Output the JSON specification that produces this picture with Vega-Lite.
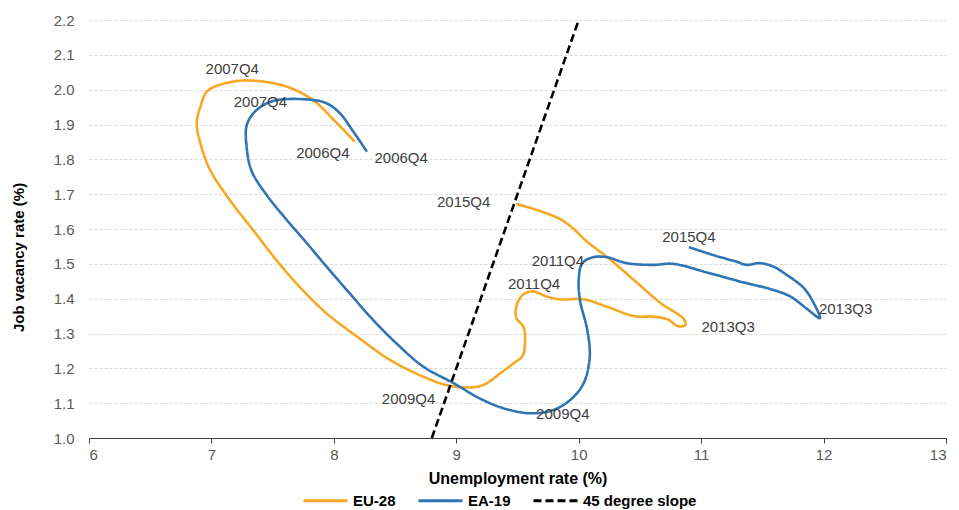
{
  "$schema": "https://vega.github.io/schema/vega-lite/v6.json",
  "width": 857,
  "height": 418,
  "autosize": {"type": "none"},
  "padding": {"left": 89, "top": 20, "right": 13, "bottom": 72},
  "background": "white",
  "config": {
    "view": {"stroke": null},
    "font": "Liberation Sans"
  },
  "datasets": {
    "lines": [
      {"series": "EU-28", "i": 1, "x": 8.17, "y": 1.851},
      {"series": "EU-28", "i": 2, "x": 8.0, "y": 1.913},
      {"series": "EU-28", "i": 3, "x": 7.83, "y": 1.97},
      {"series": "EU-28", "i": 4, "x": 7.62, "y": 2.008},
      {"series": "EU-28", "i": 5, "x": 7.34, "y": 2.026},
      {"series": "EU-28", "i": 6, "x": 7.16, "y": 2.022},
      {"series": "EU-28", "i": 7, "x": 6.97, "y": 1.997},
      {"series": "EU-28", "i": 8, "x": 6.91, "y": 1.951},
      {"series": "EU-28", "i": 9, "x": 6.88, "y": 1.904},
      {"series": "EU-28", "i": 10, "x": 6.91, "y": 1.846},
      {"series": "EU-28", "i": 11, "x": 6.99, "y": 1.769},
      {"series": "EU-28", "i": 12, "x": 7.15, "y": 1.683},
      {"series": "EU-28", "i": 13, "x": 7.34, "y": 1.597},
      {"series": "EU-28", "i": 14, "x": 7.53, "y": 1.511},
      {"series": "EU-28", "i": 15, "x": 7.72, "y": 1.434},
      {"series": "EU-28", "i": 16, "x": 7.94, "y": 1.358},
      {"series": "EU-28", "i": 17, "x": 8.19, "y": 1.291},
      {"series": "EU-28", "i": 18, "x": 8.46, "y": 1.224},
      {"series": "EU-28", "i": 19, "x": 8.73, "y": 1.176},
      {"series": "EU-28", "i": 20, "x": 8.92, "y": 1.152},
      {"series": "EU-28", "i": 21, "x": 9.09, "y": 1.145},
      {"series": "EU-28", "i": 22, "x": 9.22, "y": 1.152},
      {"series": "EU-28", "i": 23, "x": 9.36, "y": 1.186},
      {"series": "EU-28", "i": 24, "x": 9.47, "y": 1.215},
      {"series": "EU-28", "i": 25, "x": 9.54, "y": 1.235},
      {"series": "EU-28", "i": 26, "x": 9.56, "y": 1.265},
      {"series": "EU-28", "i": 27, "x": 9.55, "y": 1.318},
      {"series": "EU-28", "i": 28, "x": 9.49, "y": 1.345},
      {"series": "EU-28", "i": 29, "x": 9.49, "y": 1.377},
      {"series": "EU-28", "i": 30, "x": 9.54, "y": 1.41},
      {"series": "EU-28", "i": 31, "x": 9.62, "y": 1.421},
      {"series": "EU-28", "i": 32, "x": 9.74, "y": 1.406},
      {"series": "EU-28", "i": 33, "x": 9.85, "y": 1.398},
      {"series": "EU-28", "i": 34, "x": 10.04, "y": 1.398},
      {"series": "EU-28", "i": 35, "x": 10.23, "y": 1.377},
      {"series": "EU-28", "i": 36, "x": 10.45, "y": 1.35},
      {"series": "EU-28", "i": 37, "x": 10.62, "y": 1.348},
      {"series": "EU-28", "i": 38, "x": 10.73, "y": 1.34},
      {"series": "EU-28", "i": 39, "x": 10.81, "y": 1.321},
      {"series": "EU-28", "i": 40, "x": 10.87, "y": 1.324},
      {"series": "EU-28", "i": 41, "x": 10.86, "y": 1.341},
      {"series": "EU-28", "i": 42, "x": 10.67, "y": 1.387},
      {"series": "EU-28", "i": 43, "x": 10.45, "y": 1.454},
      {"series": "EU-28", "i": 44, "x": 10.23, "y": 1.52},
      {"series": "EU-28", "i": 45, "x": 10.06, "y": 1.566},
      {"series": "EU-28", "i": 46, "x": 9.95, "y": 1.603},
      {"series": "EU-28", "i": 47, "x": 9.85, "y": 1.628},
      {"series": "EU-28", "i": 48, "x": 9.68, "y": 1.652},
      {"series": "EU-28", "i": 49, "x": 9.49, "y": 1.672},
      {"series": "EA-19", "i": 1, "x": 8.27, "y": 1.822},
      {"series": "EA-19", "i": 2, "x": 8.16, "y": 1.879},
      {"series": "EA-19", "i": 3, "x": 8.05, "y": 1.932},
      {"series": "EA-19", "i": 4, "x": 7.94, "y": 1.961},
      {"series": "EA-19", "i": 5, "x": 7.78, "y": 1.972},
      {"series": "EA-19", "i": 6, "x": 7.51, "y": 1.968},
      {"series": "EA-19", "i": 7, "x": 7.37, "y": 1.942},
      {"series": "EA-19", "i": 8, "x": 7.29, "y": 1.9},
      {"series": "EA-19", "i": 9, "x": 7.29, "y": 1.827},
      {"series": "EA-19", "i": 10, "x": 7.33, "y": 1.765},
      {"series": "EA-19", "i": 11, "x": 7.45, "y": 1.698},
      {"series": "EA-19", "i": 12, "x": 7.615, "y": 1.626},
      {"series": "EA-19", "i": 13, "x": 7.78, "y": 1.559},
      {"series": "EA-19", "i": 14, "x": 7.94, "y": 1.492},
      {"series": "EA-19", "i": 15, "x": 8.13, "y": 1.415},
      {"series": "EA-19", "i": 16, "x": 8.32, "y": 1.339},
      {"series": "EA-19", "i": 17, "x": 8.51, "y": 1.272},
      {"series": "EA-19", "i": 18, "x": 8.73, "y": 1.205},
      {"series": "EA-19", "i": 19, "x": 8.98, "y": 1.157},
      {"series": "EA-19", "i": 20, "x": 9.19, "y": 1.114},
      {"series": "EA-19", "i": 21, "x": 9.38, "y": 1.086},
      {"series": "EA-19", "i": 22, "x": 9.6, "y": 1.071},
      {"series": "EA-19", "i": 23, "x": 9.79, "y": 1.08},
      {"series": "EA-19", "i": 24, "x": 9.93, "y": 1.109},
      {"series": "EA-19", "i": 25, "x": 10.04, "y": 1.157},
      {"series": "EA-19", "i": 26, "x": 10.09, "y": 1.233},
      {"series": "EA-19", "i": 27, "x": 10.07, "y": 1.31},
      {"series": "EA-19", "i": 28, "x": 10.01, "y": 1.396},
      {"series": "EA-19", "i": 29, "x": 10.0, "y": 1.454},
      {"series": "EA-19", "i": 30, "x": 10.03, "y": 1.502},
      {"series": "EA-19", "i": 31, "x": 10.12, "y": 1.519},
      {"series": "EA-19", "i": 32, "x": 10.23, "y": 1.519},
      {"series": "EA-19", "i": 33, "x": 10.39, "y": 1.502},
      {"series": "EA-19", "i": 34, "x": 10.61, "y": 1.497},
      {"series": "EA-19", "i": 35, "x": 10.77, "y": 1.5},
      {"series": "EA-19", "i": 36, "x": 11.05, "y": 1.475},
      {"series": "EA-19", "i": 37, "x": 11.32, "y": 1.449},
      {"series": "EA-19", "i": 38, "x": 11.59, "y": 1.425},
      {"series": "EA-19", "i": 39, "x": 11.73, "y": 1.406},
      {"series": "EA-19", "i": 40, "x": 11.86, "y": 1.372},
      {"series": "EA-19", "i": 41, "x": 11.97, "y": 1.344},
      {"series": "EA-19", "i": 42, "x": 11.92, "y": 1.387},
      {"series": "EA-19", "i": 43, "x": 11.84, "y": 1.43},
      {"series": "EA-19", "i": 44, "x": 11.7, "y": 1.468},
      {"series": "EA-19", "i": 45, "x": 11.59, "y": 1.492},
      {"series": "EA-19", "i": 46, "x": 11.48, "y": 1.502},
      {"series": "EA-19", "i": 47, "x": 11.37, "y": 1.497},
      {"series": "EA-19", "i": 48, "x": 11.29, "y": 1.506},
      {"series": "EA-19", "i": 49, "x": 11.1, "y": 1.525},
      {"series": "EA-19", "i": 50, "x": 10.9, "y": 1.548},
      {"series": "45 degree slope", "i": 1, "x": 8.8, "y": 1.0},
      {"series": "45 degree slope", "i": 2, "x": 10.0, "y": 2.2}
    ],
    "labels": [
      {"label": "2007Q4", "x": 7.17, "y": 2.059},
      {"label": "2007Q4", "x": 7.4, "y": 1.966},
      {"label": "2006Q4", "x": 7.91, "y": 1.819},
      {"label": "2006Q4", "x": 8.55, "y": 1.803},
      {"label": "2015Q4", "x": 9.06, "y": 1.678},
      {"label": "2015Q4", "x": 10.9, "y": 1.576},
      {"label": "2011Q4", "x": 9.83, "y": 1.508},
      {"label": "2011Q4", "x": 9.635, "y": 1.441},
      {"label": "2013Q3", "x": 11.22, "y": 1.318},
      {"label": "2013Q3", "x": 12.18, "y": 1.369},
      {"label": "2009Q4", "x": 8.61, "y": 1.111},
      {"label": "2009Q4", "x": 9.87, "y": 1.068}
    ]
  },
  "encoding": {
    "x": {
      "field": "x", "type": "quantitative",
      "scale": {"domain": [6, 13], "nice": false, "zero": false},
      "axis": {
        "title": "Unemployment  rate (%)",
        "values": [6, 7, 8, 9, 10, 11, 12, 13],
        "format": "d",
        "labelOverlap": false,
        "grid": false,
        "domainColor": "#404040",
        "domainWidth": 1.2,
        "tickColor": "#404040",
        "tickSize": 5,
        "labelFontSize": 15,
        "labelColor": "#595959",
        "labelPadding": 4,
        "titleFontSize": 16,
        "titleFontWeight": "bold",
        "titleColor": "#000000",
        "titleBaseline": "middle",
        "titleY": 40
      }
    },
    "y": {
      "field": "y", "type": "quantitative",
      "scale": {"domain": [1.0, 2.2], "nice": false, "zero": false},
      "axis": {
        "title": "Job vacancy rate (%)",
        "values": [1.0, 1.1, 1.2, 1.3, 1.4, 1.5, 1.6, 1.7, 1.8, 1.9, 2.0, 2.1, 2.2],
        "format": ".1f",
        "labelOverlap": false,
        "domain": false,
        "ticks": false,
        "grid": true,
        "gridColor": "#d9d9d9",
        "gridDash": [3, 2],
        "labelFontSize": 15,
        "labelColor": "#595959",
        "labelPadding": 15,
        "titleFontSize": 15,
        "titleFontWeight": "bold",
        "titleColor": "#000000",
        "titleAngle": -90,
        "titleAlign": "center",
        "titleBaseline": "middle",
        "titleX": -71,
        "titleY": 237
      }
    }
  },
  "layer": [
    {
      "data": {"name": "lines"},
      "mark": {"type": "line", "interpolate": "catmull-rom", "strokeWidth": 2.6},
      "encoding": {
        "order": {"field": "i", "type": "quantitative"},
        "color": {
          "field": "series", "type": "nominal",
          "scale": {"domain": ["EU-28", "EA-19", "45 degree slope"], "range": ["#F6A823", "#2F74B5", "#000000"]},
          "legend": {
            "title": null,
            "orient": "none",
            "direction": "horizontal",
            "legendX": 213,
            "legendY": 457,
            "symbolType": "stroke",
            "symbolSize": 1936,
            "symbolStrokeWidth": 3,
            "labelFontSize": 15,
            "labelFontWeight": "bold",
            "labelColor": "#000000",
            "labelOffset": 4,
            "columnPadding": 16
          }
        },
        "strokeDash": {
          "field": "series", "type": "nominal",
          "scale": {"domain": ["EU-28", "EA-19", "45 degree slope"], "range": [[1, 0], [1, 0], [8, 4]]},
          "legend": {
            "title": null,
            "orient": "none",
            "direction": "horizontal",
            "legendX": 213,
            "legendY": 457,
            "symbolType": "stroke",
            "symbolSize": 1936,
            "symbolStrokeWidth": 3,
            "labelFontSize": 15,
            "labelFontWeight": "bold",
            "labelColor": "#000000",
            "labelOffset": 4,
            "columnPadding": 16
          }
        }
      }
    },
    {
      "data": {"name": "labels"},
      "mark": {"type": "text", "fontSize": 15, "color": "#404040", "align": "center", "baseline": "middle"},
      "encoding": {
        "text": {"field": "label"}
      }
    }
  ]
}
